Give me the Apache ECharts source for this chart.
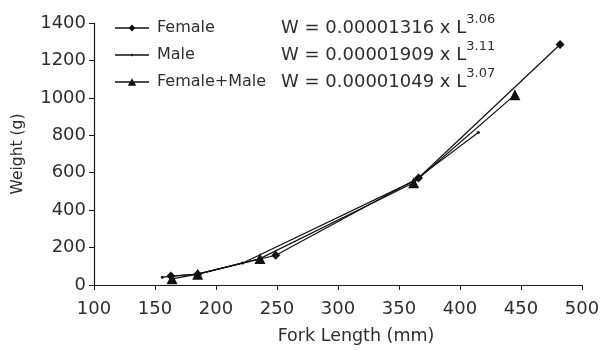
<!DOCTYPE html>
<html><head><meta charset="utf-8">
<script src="https://cdn.jsdelivr.net/npm/echarts@6/dist/echarts.min.js"></script>
<style>html,body{margin:0;padding:0;background:#fff}#c{width:608px;height:350px}</style>
</head><body><div id="c"></div>
<script>
var seriesNames = ['Female', 'Male', 'Female+Male'];
var femaleData = [[163, 48], [185, 58], [249, 159], [366, 572], [482, 1285]];
var maleData = [[156, 42], [185, 58], [222, 118], [362, 555], [415, 815]];
var bothData = [[164, 33], [185, 58], [236, 141], [362, 546], [445, 1016]];
var eqCoef = ['0.00001316', '0.00001909', '0.00001049'];
var eqExp = ['3.06', '3.11', '3.07'];
var xTicks = [100, 150, 200, 250, 300, 350, 400, 450, 500];
var yTicks = [0, 200, 400, 600, 800, 1000, 1200, 1400];

var FONT = 'DejaVu Sans';
var TXT = '#2e2e2e';
var chart = echarts.init(document.getElementById('c'));
var axisCommon = {
  axisLine: {show: true, lineStyle: {color: '#1a1a1a', width: 1.2}},
  axisTick: {show: true, inside: false, length: 5, lineStyle: {color: '#1a1a1a'}},
  splitLine: {show: false},
  axisLabel: {color: TXT, fontFamily: FONT, fontSize: 18, formatter: function (v) { return String(v); }}
};
var eqTitles = eqCoef.map(function (c, i) {
  return {
    left: 281, top: 13 + i * 27, padding: 0,
    text: '{b|W = ' + c + ' x L}{s|' + eqExp[i] + '}',
    textStyle: {
      fontFamily: FONT, fontSize: 18, fontWeight: 'normal', color: TXT,
      rich: {
        b: {fontFamily: FONT, fontSize: 18, color: TXT, lineHeight: 24, verticalAlign: 'bottom'},
        s: {fontFamily: FONT, fontSize: 13, color: TXT, lineHeight: 24, verticalAlign: 'top', padding: [0, 0, 11, 0]}
      }
    }
  };
});
var icons = [
  'path://M0 4.2L40 4.2L40 5.8L0 5.8Z M20 1L24 5L20 9L16 5Z M0 0L0.01 0L0.01 0.01Z M0 10L0.01 10L0.01 9.99Z',
  'path://M0 4.2L40 4.2L40 5.8L0 5.8Z M19.2 3.6L20.8 3.6L20.8 6.4L19.2 6.4Z M0 0L0.01 0L0.01 0.01Z M0 10L0.01 10L0.01 9.99Z',
  'path://M0 4.2L40 4.2L40 5.8L0 5.8Z M20 0.5L25 9.5L15 9.5Z M0 0L0.01 0L0.01 0.01Z M0 10L0.01 10L0.01 9.99Z'
];
var symbols = ['diamond', 'circle', 'triangle'];
var symSizes = [9, 3, 11];
var datas = [femaleData, maleData, bothData];
chart.setOption({
  animation: false,
  backgroundColor: '#fff',
  title: eqTitles,
  grid: {left: 94, right: 26, top: 23, bottom: 63, containLabel: false},
  legend: {
    orient: 'vertical', left: 110, top: 15, itemGap: 11, itemWidth: 34, itemHeight: 11,
    data: seriesNames.map(function (n, i) { return {name: n, icon: icons[i], itemStyle: {color: '#111'}}; }),
    textStyle: {color: TXT, fontFamily: FONT, fontSize: 16, padding: [0, 0, 0, 3]}
  },
  xAxis: Object.assign({}, axisCommon, {
    type: 'value', min: 100, max: 500, interval: 50,
    name: 'Fork Length (mm)', nameLocation: 'middle', nameGap: 42,
    nameTextStyle: {color: TXT, fontFamily: FONT, fontSize: 17.5, padding: [0, 0, 0, 36]},
    axisLabel: Object.assign({}, axisCommon.axisLabel, {margin: 15})
  }),
  yAxis: Object.assign({}, axisCommon, {
    type: 'value', min: 0, max: 1400, interval: 200,
    name: 'Weight (g)', nameLocation: 'middle', nameGap: 68,
    nameTextStyle: {color: TXT, fontFamily: FONT, fontSize: 15.5},
    axisLabel: Object.assign({}, axisCommon.axisLabel, {margin: 8})
  }),
  series: seriesNames.map(function (n, i) {
    return {
      name: n, type: 'line', data: datas[i],
      symbol: symbols[i], symbolSize: symSizes[i], showSymbol: true,
      lineStyle: {color: '#111', width: 1.2},
      itemStyle: {color: '#111'}
    };
  })
});
</script></body></html>
